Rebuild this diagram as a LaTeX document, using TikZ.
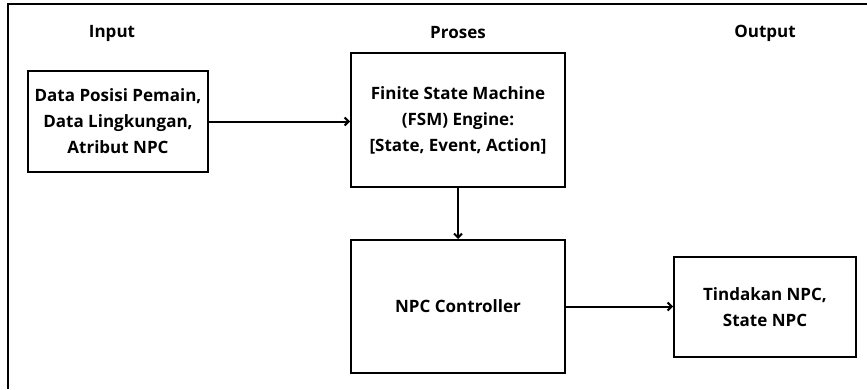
\documentclass[tikz,border=0pt]{standalone}
\usepackage{fontspec}
\setmainfont{Open Sans}
\usetikzlibrary{arrows.meta}

\begin{document}
\begin{tikzpicture}[x=1pt,y=1pt,
		box/.style={draw=black,line width=2pt,inner sep=0pt,align=center,font=\bfseries\fontsize{17}{26}\selectfont},
		head/.style={font=\bfseries\fontsize{17}{26}\selectfont},
		link/.style={draw=black,line width=2pt,-{Straight Barb[length=4pt,width=8pt]}}]
		\useasboundingbox (0,0) rectangle (867,-389);
		\draw [black,line width=2pt] (8,-389) -- (8,-4) -- (867,-4);
		\node [head] (hin) at (112,-33) {Input};
		\node [head] (hpro) at (458,-33) {Proses};
		\node [head] (hout) at (765,-33) {Output};
		\node [box,minimum width=180,minimum height=101] (inp) at (118,-121.5) {Data Posisi Pemain,\\Data Lingkungan,\\Atribut NPC};
		\node [box,minimum width=214,minimum height=134] (fsm) at (458,-120) {Finite State Machine\\(FSM) Engine:\\{[State, Event, Action]}};
		\node [box,minimum width=214,minimum height=133] (ctl) at (458,-306.5) {NPC Controller};
		\node [box,minimum width=182,minimum height=100] (outp) at (765,-307) {Tindakan NPC,\\State NPC};
		\draw [link] (inp.east) -- (inp.east -| fsm.west);
		\draw [link] (fsm.south) -- (ctl.north);
		\draw [link] (ctl.east) -- (ctl.east -| outp.west);
\end{tikzpicture}
\end{document}
